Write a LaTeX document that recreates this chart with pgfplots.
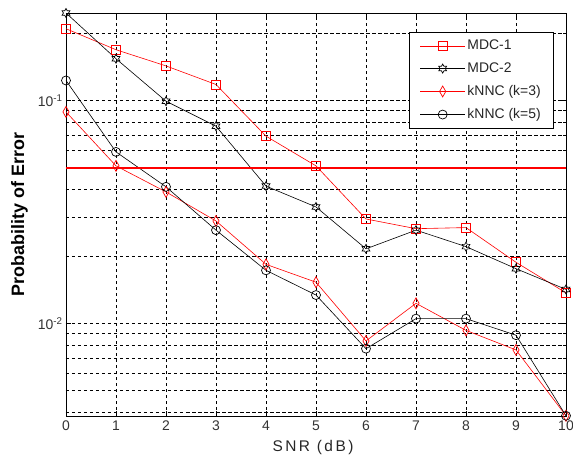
\documentclass[border=0pt]{standalone}
\usepackage{pgfplots}
\pgfplotsset{compat=1.18}
\usepackage{fontspec}
\setmainfont{Liberation Sans}
\definecolor{mred}{RGB}{255,0,0}
\pgfdeclareplotmark{hexagram}{%
  \pgfpathmoveto{\pgfpointpolar{90}{\pgfplotmarksize}}%
  \pgfpathlineto{\pgfpointpolar{120}{0.577\pgfplotmarksize}}%
  \pgfpathlineto{\pgfpointpolar{150}{\pgfplotmarksize}}%
  \pgfpathlineto{\pgfpointpolar{180}{0.577\pgfplotmarksize}}%
  \pgfpathlineto{\pgfpointpolar{210}{\pgfplotmarksize}}%
  \pgfpathlineto{\pgfpointpolar{240}{0.577\pgfplotmarksize}}%
  \pgfpathlineto{\pgfpointpolar{270}{\pgfplotmarksize}}%
  \pgfpathlineto{\pgfpointpolar{300}{0.577\pgfplotmarksize}}%
  \pgfpathlineto{\pgfpointpolar{330}{\pgfplotmarksize}}%
  \pgfpathlineto{\pgfpointpolar{0}{0.577\pgfplotmarksize}}%
  \pgfpathlineto{\pgfpointpolar{30}{\pgfplotmarksize}}%
  \pgfpathlineto{\pgfpointpolar{60}{0.577\pgfplotmarksize}}%
  \pgfpathclose
  \pgfusepathqstroke}
\begin{document}
\begin{tikzpicture}
\path[use as bounding box] (-66bp,-46bp) rectangle (507bp,416bp);
\begin{semilogyaxis}[
  scale only axis,
  width=500bp, height=403bp,
  xmin=0, xmax=10,
  ymin=0.00384, ymax=0.247,
  xtick={0,1,...,10},
  ytick={0.01,0.1},
  minor ytick={0.004,0.005,0.006,0.007,0.008,0.009,0.02,0.03,0.04,0.06,0.07,0.08,0.09,0.2},
  yticklabels={10\textsuperscript{-2},10\textsuperscript{-1}},
  /pgf/number format/assume math mode=true,
  tick align=inside,
  major tick length=5bp,
  minor tick length=3bp,
  grid=both,
  major grid style={black, line width=0.5bp, dash pattern=on 3.5bp off 2.5bp},
  minor grid style={black, line width=0.5bp, dash pattern=on 3.5bp off 2.5bp},
  axis line style={black, line width=0.8bp},
  tick style={black, line width=0.6bp},
  tick label style={font=\fontsize{14}{16}\selectfont, text=black!80},
  xticklabel style={yshift=-1bp},
  xlabel={SNR (dB)},
  ylabel={\bfseries Probability of Error},
  xlabel style={font=\fontsize{15.5}{17}\selectfont\addfontfeatures{LetterSpace=16}, text=black!85, at={(axis description cs:0.494,-0.077)}, anchor=center},
  ylabel style={font=\fontsize{18}{20}\selectfont, at={(axis description cs:-0.093,0.5)}, anchor=center},
  legend style={at={(rel axis cs:0.976,0.953)}, anchor=north east, draw=black, line width=0.6bp, fill=white,
    font=\fontsize{14}{16}\selectfont, text=black!85, row sep=7.5bp, inner xsep=11bp, inner ysep=6bp},
  legend cell align=left,
  legend image code/.code={\draw[#1] (0bp,0bp) -- (45bp,0bp); \path[#1, mark repeat=1] plot coordinates {(22.5bp,0bp)};},
]
\addplot[mred, line width=0.6bp, mark=square, mark size=4.5bp, mark options={solid, line width=0.7bp}] coordinates {
(0,0.210)(1,0.169)(2,0.143)(3,0.118)(4,0.0692)(5,0.0509)(6,0.0294)(7,0.0266)(8,0.0269)(9,0.0188)(10,0.0137)};
\addlegendentry{MDC-1}
\addplot[black, line width=0.6bp, mark=hexagram, mark size=4.5bp, mark options={solid, line width=0.7bp}] coordinates {
(0,0.247)(1,0.154)(2,0.0993)(3,0.0767)(4,0.0413)(5,0.0333)(6,0.0216)(7,0.0262)(8,0.0221)(9,0.0176)(10,0.0142)};
\addlegendentry{MDC-2}
\addplot[mred, line width=0.6bp, mark=diamond, mark size=5.5bp, mark options={solid, line width=0.7bp, xscale=0.75}] coordinates {
(0,0.0889)(1,0.0509)(2,0.0389)(3,0.0288)(4,0.0184)(5,0.0153)(6,0.00834)(7,0.0123)(8,0.0093)(9,0.0076)(10,0.00385)};
\addlegendentry{kNNC (k=3)}
\addplot[black, line width=0.6bp, mark=o, mark size=4.5bp, mark options={solid, line width=0.7bp}] coordinates {
(0,0.123)(1,0.0588)(2,0.041)(3,0.0262)(4,0.0173)(5,0.0134)(6,0.0077)(7,0.0105)(8,0.0105)(9,0.00885)(10,0.00385)};
\addlegendentry{kNNC (k=5)}
\addplot[color=mred, line width=2bp, mark=none] coordinates {(0,0.05)(5,0.05)(10,0.05)};
\end{semilogyaxis}
\end{tikzpicture}
\end{document}
